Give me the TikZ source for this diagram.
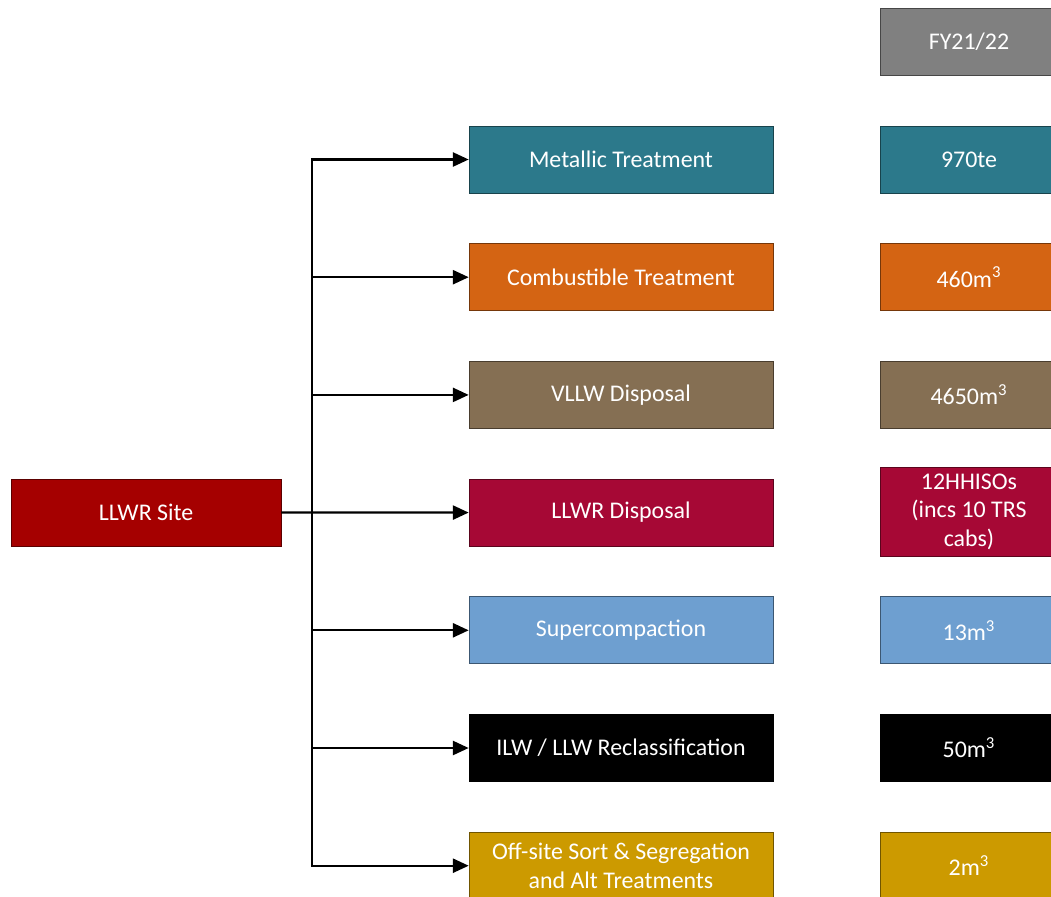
\documentclass[tikz,border=0pt]{standalone}
\usepackage{fontspec}
\setmainfont{Carlito}
\usetikzlibrary{positioning,arrows.meta}
\definecolor{sitecol}{HTML}{A50000}
\definecolor{metalcol}{HTML}{2C798B}
\definecolor{combcol}{HTML}{D46413}
\definecolor{vllwcol}{HTML}{856F53}
\definecolor{llwrcol}{HTML}{A60835}
\definecolor{supercol}{HTML}{6E9FD0}
\definecolor{ilwcol}{HTML}{000000}
\definecolor{offcol}{HTML}{CC9A00}
\definecolor{fycol}{HTML}{808080}

\begin{document}
\begin{tikzpicture}[x=0.02cm,y=-0.02cm,
	box/.style={fill=#1, draw=#1!55!black, text=white, minimum height=1.34cm,
		inner sep=2pt, align=center, font=\fontsize{13.6}{16.2}\selectfont},
	midbox/.style={box=#1, minimum width=6.08cm},
	valbox/.style={box=#1, minimum width=3.56cm},
	flow/.style={line width=1.3pt, -{Triangle[length=9pt,width=8pt]}}]
			% picture size in pixels of the reference
			\useasboundingbox (0,0) rectangle (1051,896);
			\clip (0,0) rectangle (1051,896);
			% row spacing and column centres
			\pgfmathsetmacro{\rowH}{117.7}
			\pgfmathsetmacro{\midX}{621}
			\pgfmathsetmacro{\valX}{969}
			
			\node[box=sitecol, minimum width=5.4cm] (site) at (146,512.5) {LLWR Site};
			\node[valbox=fycol] (fy) at (\valX,41.5) {FY21/22};
			
			\node[midbox=metalcol] (metal) at (\midX,159.5) {Metallic Treatment};
			\node[midbox=combcol] (comb) at (\midX,159.5+\rowH) {Combustible Treatment};
			\node[midbox=vllwcol] (vllw) at (\midX,159.5+2*\rowH) {VLLW Disposal};
			\node[midbox=llwrcol] (llwr) at (\midX,159.5+3*\rowH) {LLWR Disposal};
			\node[midbox=supercol] (super) at (\midX,159.5+4*\rowH) {Supercompaction};
			\node[midbox=ilwcol] (ilw) at (\midX,159.5+5*\rowH) {ILW / LLW Reclassification};
			\node[midbox=offcol] (off) at (\midX,159.5+6*\rowH) {Off-site Sort \& Segregation\\and Alt Treatments};
			
			\node[valbox=metalcol] (metalv) at (fy |- metal) {970te};
			\node[valbox=combcol] (combv) at (fy |- comb) {460m\textsuperscript{3}};
			\node[valbox=vllwcol] (vllwv) at (fy |- vllw) {4650m\textsuperscript{3}};
			\node[valbox=llwrcol, minimum height=1.78cm] (llwrv) at (\valX,511.5) {12HHISOs\\(incs 10 TRS\\cabs)};
			\node[valbox=supercol] (superv) at (fy |- super) {13m\textsuperscript{3}};
			\node[valbox=ilwcol] (ilwv) at (fy |- ilw) {50m\textsuperscript{3}};
			\node[valbox=offcol] (offv) at (fy |- off) {2m\textsuperscript{3}};
			
			% trunk of the tree
			\coordinate (trunk) at (312,512.5);
			\draw[flow] (site) -- (llwr);
			\foreach \target in {metal,comb,vllw,super,ilw,off}
				\draw[flow] (trunk) |- (\target.west);
		\end{tikzpicture}
\end{document}
